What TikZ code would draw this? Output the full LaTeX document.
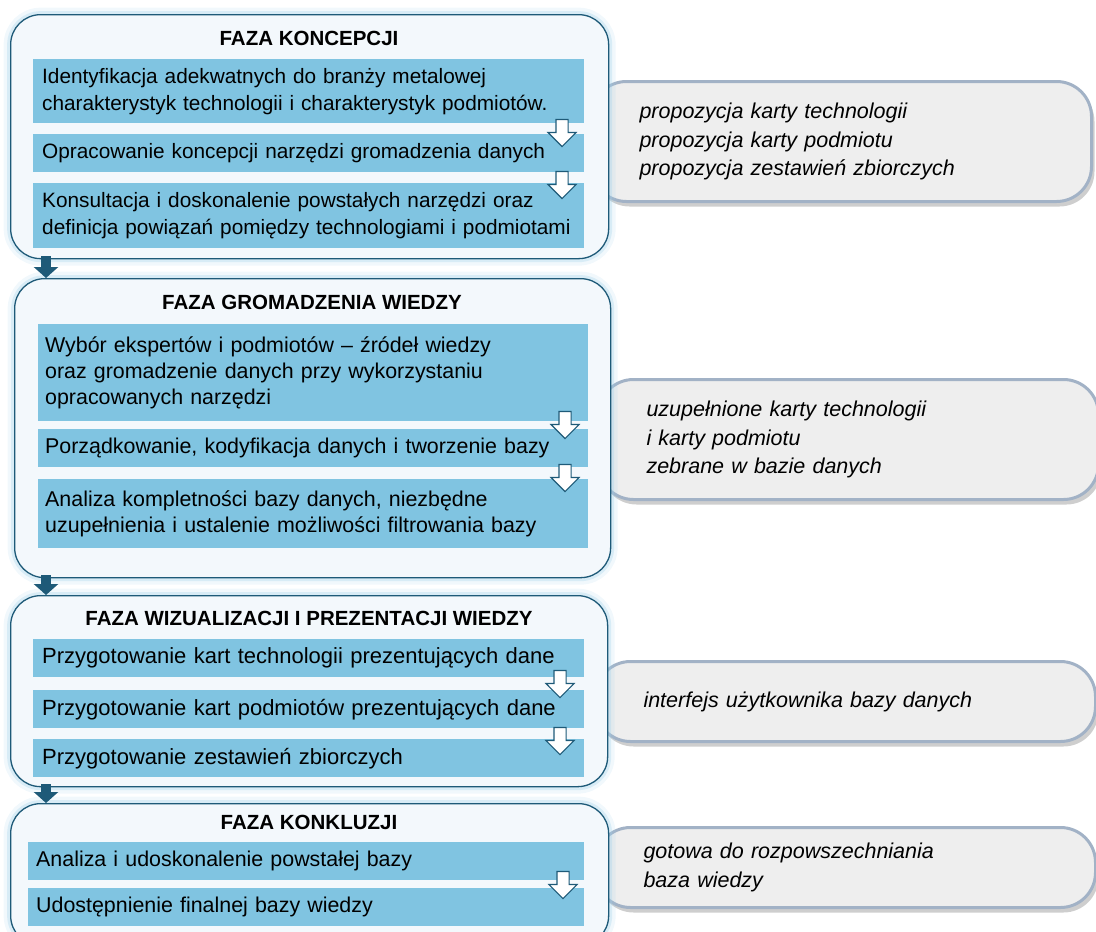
\documentclass[tikz,border=0pt]{standalone}
\usepackage{fontspec}
\setmainfont{Liberation Sans}
\usetikzlibrary{arrows.meta, positioning, calc, shapes.arrows, shadows}
\definecolor{colPhaseFill}{HTML}{F3F8FC}
\definecolor{colPhaseEdge}{HTML}{1E5A78}
\definecolor{colGlow}{HTML}{9FD0EA}
\definecolor{colStep}{HTML}{80C4E1}
\definecolor{colNoteFill}{HTML}{EEEEEE}
\definecolor{colNoteEdge}{HTML}{A2B2C6}

\begin{document}
\begin{tikzpicture}[
    x=1pt, y=-1pt,
    >=Stealth,
    phasebox/.style={
        rectangle, rounded corners=30pt, draw=colPhaseEdge,
        line width=1.3pt, fill=colPhaseFill, anchor=north west,
        inner sep=0pt,
        preaction={draw=colGlow, line width=14pt, opacity=0.15},
        preaction={draw=colGlow, line width=7pt, opacity=0.3}
    },
    phasetitle/.style={font=\bfseries\fontsize{20.5}{24}\selectfont, inner sep=0pt},
    stepbox/.style={
        rectangle, fill=colStep, anchor=north west,
        inner xsep=9pt, inner ysep=0pt, text width=533pt, align=left,
        font=\fontsize{20.8}{27}\selectfont
    },
    widestep/.style={stepbox, inner xsep=7pt, text width=536pt,
        font=\fontsize{21.4}{26}\selectfont},
    steparrow/.style={
        single arrow, draw=colPhaseEdge, fill=white, line width=1.1pt,
        minimum height=27pt, inner sep=5.5pt,
        single arrow head extend=8pt, rotate=-90
    },
    phasearrow/.style={
        draw=colPhaseEdge, line width=10pt,
        -{Triangle[width=24pt, length=11pt]}
    },
    notebox/.style={
        rectangle, rounded corners=35pt, draw=colNoteEdge, line width=3pt,
        fill=colNoteFill, anchor=north west, inner xsep=48pt,
        text width=404pt, align=left,
        font=\itshape\fontsize{21.5}{28.5}\selectfont,
        drop shadow={shadow xshift=3pt, shadow yshift=-5pt,
            opacity=0.35, fill=black!55}
    }
]
    \useasboundingbox (0,0) rectangle (1096,932);

    % --- OUTCOMES (behind the phases) ---
    \node[notebox, minimum width=500pt, minimum height=120pt] (out1) at (590,80)
        {propozycja karty technologii\\propozycja karty podmiotu\\propozycja zestawień zbiorczych};
    \node[notebox, minimum width=493pt, minimum height=120pt] (out2) at (597,378)
        {uzupełnione karty technologii\\i karty podmiotu\\zebrane w bazie danych};
    \node[notebox, minimum width=496pt, minimum height=80pt] (out3) at (594,660)
        {interfejs użytkownika bazy danych};
    \node[notebox, minimum width=496pt, minimum height=80pt] (out4) at (594,826)
        {gotowa do rozpowszechniania\\baza wiedzy};

    % --- PHASE FRAMES ---
    \node[phasebox, minimum width=598pt, minimum height=244pt] (ph1) at (10,14) {};
    \node[phasebox, minimum width=596pt, minimum height=299pt] (ph2) at (14,278) {};
    \node[phasebox, minimum width=597pt, minimum height=191pt] (ph3) at (10,595) {};
    \node[phasebox, minimum width=598pt, minimum height=142pt] (ph4) at (10,803) {};

    % --- FAZA KONCEPCJI ---
    \node[phasetitle] (title1) at (309,38) {FAZA KONCEPCJI};
    \node[stepbox, minimum height=64pt] (k1) at (33,59)
        {Identyfikacja adekwatnych do branży metalowej\\charakterystyk technologii i charakterystyk podmiotów.};
    \node[stepbox, minimum height=38pt] (k2) at (33,134)
        {Opracowanie koncepcji narzędzi gromadzenia danych};
    \node[stepbox, minimum height=65pt] (k3) at (33,183)
        {Konsultacja i doskonalenie powstałych narzędzi oraz\\definicja powiązań pomiędzy technologiami i podmiotami};
    \node[steparrow] (ka1) at (562,130) {};
    \node[steparrow] (ka2) at (562,182) {};

    % --- FAZA GROMADZENIA WIEDZY ---
    \node[phasetitle] (title2) at (312,302) {FAZA GROMADZENIA WIEDZY};
    \node[widestep, minimum height=97pt] (g1) at (38,324)
        {Wybór ekspertów i podmiotów – źródeł wiedzy\\oraz gromadzenie danych przy wykorzystaniu\\opracowanych narzędzi};
    \node[widestep, minimum height=38pt] (g2) at (38,429)
        {Porządkowanie, kodyfikacja danych i tworzenie bazy};
    \node[widestep, minimum height=69pt] (g3) at (38,479)
        {Analiza kompletności bazy danych, niezbędne\\uzupełnienia i ustalenie możliwości filtrowania bazy};
    \node[steparrow] (ga1) at (565,422) {};
    \node[steparrow] (ga2) at (565,475) {};

    % --- FAZA WIZUALIZACJI I PREZENTACJI WIEDZY ---
    \node[phasetitle] (title3) at (309,618) {FAZA WIZUALIZACJI I PREZENTACJI WIEDZY};
    \node[stepbox, minimum height=38pt, font=\fontsize{22}{26}\selectfont] (w1) at (33,639)
        {Przygotowanie kart technologii prezentujących dane};
    \node[stepbox, minimum height=38pt, font=\fontsize{22}{26}\selectfont] (w2) at (33,690)
        {Przygotowanie kart podmiotów prezentujących dane};
    \node[stepbox, minimum height=38pt, font=\fontsize{22}{26}\selectfont] (w3) at (33,739)
        {Przygotowanie zestawień zbiorczych};
    \node[steparrow] (wa1) at (560,681) {};
    \node[steparrow] (wa2) at (560,738) {};

    % --- FAZA KONKLUZJI ---
    \node[phasetitle] (title4) at (309,822) {FAZA KONKLUZJI};
    \node[stepbox, minimum height=38pt, inner xsep=8pt, text width=540pt,
        font=\fontsize{21.4}{26}\selectfont] (z1) at (28,842)
        {Analiza i udoskonalenie powstałej bazy};
    \node[stepbox, minimum height=38pt, inner xsep=8pt, text width=540pt,
        font=\fontsize{21.4}{26}\selectfont] (z2) at (28,888)
        {Udostępnienie finalnej bazy wiedzy};
    \node[steparrow] (za1) at (563,882) {};

    % --- ARROWS between phases ---
    \coordinate (flowAxis) at (46,0);
    \draw[phasearrow] ($(ph1.south -| flowAxis) + (0,-3)$) -- (ph2.north -| flowAxis);
    \draw[phasearrow] ($(ph2.south -| flowAxis) + (0,-3)$) -- (ph3.north -| flowAxis);
    \draw[phasearrow] ($(ph3.south -| flowAxis) + (0,-3)$) -- (ph4.north -| flowAxis);

\end{tikzpicture}
\end{document}
